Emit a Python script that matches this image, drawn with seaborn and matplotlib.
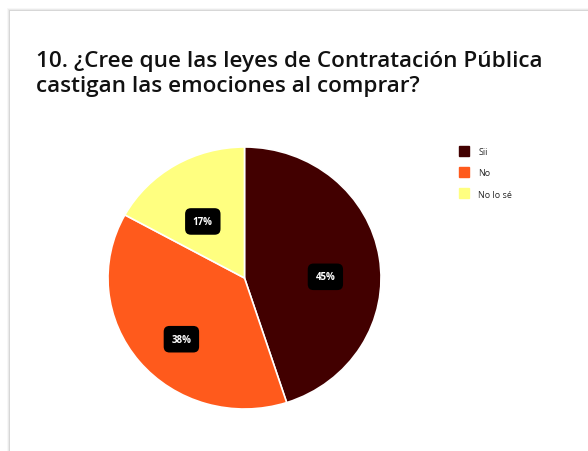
import matplotlib
matplotlib.use("Agg")
import numpy as np
import matplotlib.pyplot as plt
import seaborn as sns
from matplotlib.patches import Rectangle
from matplotlib.lines import Line2D

categories = ["Sii", "No", "No lo sé"]
values = [45, 38, 17]
colors = ["#420000", "#ff5a1c", "#ffff80"]

sns.set_theme(style="white")
plt.rcParams['font.family'] = ['Open Sans', 'DejaVu Sans']

fig = plt.figure(figsize=(5.88, 4.52), dpi=100)

# card with soft shadow
for i, a in enumerate([0.03, 0.05, 0.08]):
    off = 3 - i
    fig.patches.append(Rectangle(((10 - off) / 588, 0), 1.0, (452 - 12 + off) / 452,
                                 transform=fig.transFigure, facecolor="#000000",
                                 alpha=a, edgecolor="none", zorder=-3))
fig.patches.append(Rectangle((10 / 588, 0), 1.0, (452 - 12) / 452,
                             transform=fig.transFigure, facecolor="white",
                             edgecolor="none", zorder=-2))

fig.text(36 / 588, 1 - 67 / 452, "10. ¿Cree que las leyes de Contratación Pública",
         fontsize=16.2, fontweight="semibold", color="#111111", va="baseline")
fig.text(36 / 588, 1 - 92 / 452, "castigan las emociones al comprar?",
         fontsize=16.2, fontweight="semibold", color="#111111", va="baseline")

ax = fig.add_axes([108 / 588, 42 / 452, 273 / 588, 262 / 452])
ax.patch.set_visible(False)
wedges, texts = ax.pie(values, colors=colors, startangle=90, counterclock=False,
                       wedgeprops=dict(edgecolor="white", linewidth=1.2))
ax.set_aspect("auto")
ax.set_xlim(-1, 1)
ax.set_ylim(-1, 1)

for w, v in zip(wedges, values):
    mid = np.deg2rad((w.theta1 + w.theta2) / 2)
    r = 0.6
    ax.annotate(f"{v}%", (r * np.cos(mid), r * np.sin(mid)), xytext=(0, -8),
                textcoords="offset points", ha="center", va="center",
                color="white", fontsize=7, fontweight="bold",
                bbox=dict(boxstyle="round,pad=0.8,rounding_size=0.6", facecolor="black",
                          edgecolor="none"))

handles = [Line2D([0], [0], marker="s", linestyle="none", markersize=7.5,
                  markerfacecolor=c, markeredgecolor=c) for c in colors]
fig.legend(handles, categories, loc="upper left", bbox_to_anchor=(451 / 588, 1 - 140 / 452),
           frameon=False, fontsize=6.5, handletextpad=1.1, labelspacing=1.35,
           handlelength=1.0)

fig.savefig("out.png", dpi=100)
